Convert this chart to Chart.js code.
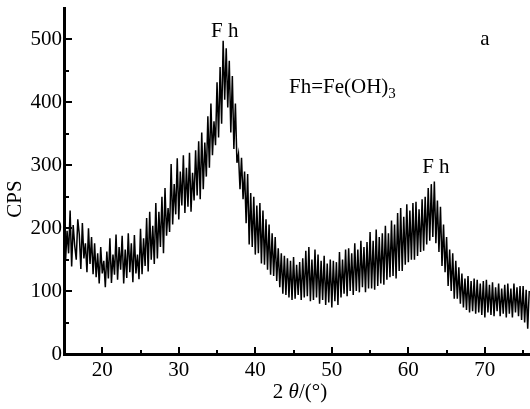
<!DOCTYPE html>
<html>
<head>
<meta charset="utf-8">
<script src="https://cdn.jsdelivr.net/npm/chart.js@4.4.0/dist/chart.umd.min.js"></script>
<style>
  html, body { margin: 0; padding: 0; background: #fff; }
  #chart_data { width: 530px; height: 409px; }
</style>
</head>
<body>
<div id="chart_data"><canvas id="chart-xrd" width="530" height="409"></canvas></div>
<script>
// 2theta scan, sampled every 0.2 deg from 15 deg
var startAngle = 15;
var angleStep = 0.2;
var cps = [
  222,148,196,160,228,139,205,172,150,214,
  190,135,208,152,176,130,200,143,186,127,
  176,122,160,112,170,128,148,106,163,120,
  184,113,158,126,190,118,170,134,188,112,
  166,121,192,130,176,114,189,128,158,119,
  199,127,184,140,216,131,226,150,204,143,
  240,152,226,170,250,160,264,188,232,194,
  302,206,270,222,311,214,290,236,316,224,
  296,234,320,226,288,244,324,252,338,246,
  352,262,336,282,378,296,398,316,370,332,
  432,344,456,366,498,404,486,392,466,352,
  442,326,398,304,318,262,312,246,290,208,
  286,174,256,170,250,158,236,160,240,144,
  228,142,214,134,206,126,192,124,186,116,
  168,106,160,96,156,94,152,90,148,86,
  154,88,142,94,146,86,152,90,164,92,
  170,84,150,86,166,90,158,80,148,86,
  156,78,144,82,150,74,148,84,146,78,
  162,90,150,96,166,92,168,100,160,94,
  176,100,166,98,180,106,170,98,178,104,
  194,104,180,102,198,108,186,112,192,110,
  204,118,192,122,212,124,206,120,224,132,
  232,132,218,142,238,146,228,150,240,150,
  242,156,230,162,246,164,250,174,264,180,
  270,186,274,176,244,162,234,140,206,130,
  186,108,166,100,160,88,148,88,138,80,
  128,74,120,70,124,66,116,68,120,64,
  118,66,112,62,116,58,118,66,110,62,
  114,60,106,68,112,60,104,64,110,58,
  112,64,104,58,112,66,106,60,108,54,
  108,50,102,40,100
];
var xMajor = [20, 30, 40, 50, 60, 70];
var xMinor = [25, 35, 45, 55, 65, 75];
var yMajor = [0, 100, 200, 300, 400, 500];
var yMinor = [50, 150, 250, 350, 450];

var serif = "'Liberation Serif', 'Times New Roman', serif";

var points = cps.map(function (v, i) {
  return { x: +(startAngle + i * angleStep).toFixed(1), y: v };
});

// inward ticks, axis titles and peak labels
var extras = {
  id: 'extras',
  afterDraw: function (chart) {
    var ctx = chart.ctx;
    var xs = chart.scales.x, ys = chart.scales.y;
    var area = chart.chartArea;
    ctx.save();
    ctx.strokeStyle = '#000';
    ctx.lineWidth = 2;
    ctx.beginPath();
    xMajor.forEach(function (v) {
      var px = Math.round(xs.getPixelForValue(v));
      ctx.moveTo(px, area.bottom); ctx.lineTo(px, area.bottom - 7);
    });
    xMinor.forEach(function (v) {
      var px = Math.round(xs.getPixelForValue(v));
      ctx.moveTo(px, area.bottom); ctx.lineTo(px, area.bottom - 4);
    });
    yMajor.forEach(function (v) {
      var py = Math.round(ys.getPixelForValue(v));
      ctx.moveTo(area.left, py); ctx.lineTo(area.left + 8, py);
    });
    yMinor.forEach(function (v) {
      var py = Math.round(ys.getPixelForValue(v));
      ctx.moveTo(area.left, py); ctx.lineTo(area.left + 5, py);
    });
    ctx.stroke();

    ctx.fillStyle = '#000';
    ctx.textBaseline = 'middle';
    ctx.textAlign = 'center';
    ctx.font = '21px ' + serif;

    // y title
    ctx.save();
    ctx.translate(15, 199);
    ctx.rotate(-Math.PI / 2);
    ctx.fillText('CPS', 0, 0);
    ctx.restore();

    // x title: 2 θ/(°)
    var parts = [['2 ', '21px ' + serif], ['\u03b8', 'italic 21px ' + serif], ['/(\u00b0)', '21px ' + serif]];
    var total = 0;
    parts.forEach(function (p) { ctx.font = p[1]; total += ctx.measureText(p[0]).width; });
    var tx = 300 - total / 2;
    ctx.textAlign = 'left';
    parts.forEach(function (p) {
      ctx.font = p[1];
      ctx.fillText(p[0], tx, 392);
      tx += ctx.measureText(p[0]).width;
    });

    // peak labels
    ctx.font = '21px ' + serif;
    ctx.textAlign = 'center';
    ctx.fillText('F h', xs.getPixelForValue(36.0), ys.getPixelForValue(513));
    ctx.fillText('F h', xs.getPixelForValue(63.6), ys.getPixelForValue(296));
    ctx.fillText('a', xs.getPixelForValue(70), ys.getPixelForValue(500));

    // legend note Fh=Fe(OH)3
    ctx.textAlign = 'left';
    var lx = xs.getPixelForValue(44.4), ly = ys.getPixelForValue(423);
    ctx.fillText('Fh=Fe(OH)', lx, ly);
    var w = ctx.measureText('Fh=Fe(OH)').width;
    ctx.font = '15px ' + serif;
    ctx.fillText('3', lx + w, ly + 6);
    ctx.restore();
  }
};

function noOverflow(s) {
  s.paddingTop = 0; s.paddingBottom = 0; s.paddingLeft = 0; s.paddingRight = 0;
}

var ctx = document.getElementById('chart-xrd').getContext('2d');
new Chart(ctx, {
  type: 'line',
  data: {
    datasets: [{
      label: 'CPS',
      data: points,
      borderColor: '#000',
      borderWidth: 1.5,
      pointRadius: 0,
      tension: 0,
      fill: false
    }]
  },
  options: {
    responsive: false,
    animation: false,
    layout: { padding: { top: 8, right: 0, left: 0, bottom: 0 } },
    plugins: {
      legend: { display: false },
      tooltip: { enabled: false }
    },
    scales: {
      x: {
        type: 'linear',
        min: 15,
        max: 75.9,
        afterBuildTicks: function (s) { s.ticks = xMajor.map(function (v) { return { value: v }; }); },
        afterFit: function (s) { s.height = 55; noOverflow(s); },
        grid: { display: false, drawTicks: false },
        border: { display: true, color: '#000', width: 3 },
        ticks: {
          color: '#000',
          padding: 4,
          maxRotation: 0,
          autoSkip: false,
          font: { family: serif, size: 21 }
        }
      },
      y: {
        min: 0,
        max: 550,
        afterBuildTicks: function (s) { s.ticks = yMajor.map(function (v) { return { value: v }; }); },
        afterFit: function (s) { s.width = 64; noOverflow(s); },
        grid: { display: false, drawTicks: false },
        border: { display: true, color: '#000', width: 3 },
        ticks: {
          color: '#000',
          padding: 2,
          font: { family: serif, size: 21 }
        }
      }
    }
  },
  plugins: [extras]
});
</script>
</body>
</html>
